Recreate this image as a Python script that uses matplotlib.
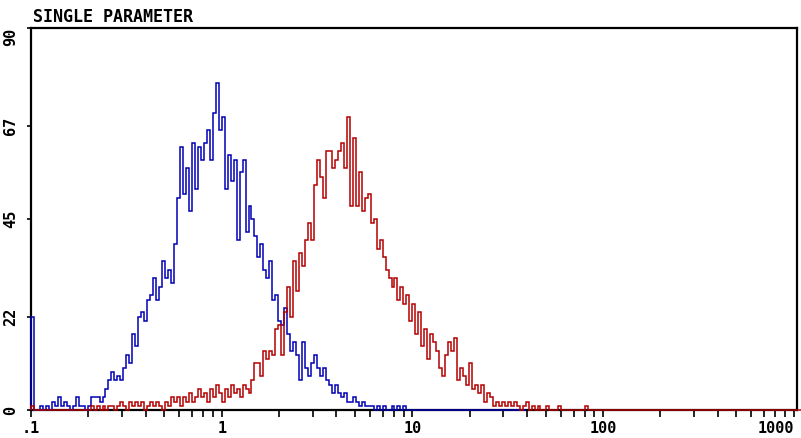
import matplotlib
matplotlib.use("Agg")
import matplotlib.pyplot as plt
import numpy as np
from matplotlib.ticker import FixedLocator, NullFormatter

# histogram counts per channel, 64 channels per decade starting at 0.1
blue_counts = [
    22, 0, 0, 1, 0, 1, 0, 2, 1, 3,
    1, 2, 1, 0, 1, 3, 1, 1, 0, 1,
    3, 3, 3, 2, 3, 5, 7, 9, 7, 8,
    7, 10, 13, 11, 18, 15, 22, 23, 21, 26,
    27, 31, 26, 29, 35, 31, 33, 30, 39, 50,
    62, 51, 57, 47, 63, 52, 62, 59, 63, 66,
    59, 70, 77, 66, 69, 52, 60, 54, 59, 40,
    56, 59, 42, 48, 45, 41, 36, 39, 33, 31,
    35, 26, 27, 21, 20, 24, 18, 14, 16, 13,
    7, 16, 10, 8, 11, 13, 10, 8, 10, 7,
    6, 4, 6, 4, 3, 4, 2, 2, 3, 2,
    1, 2, 1, 1, 1, 0, 1, 0, 1, 0,
    0, 1, 0, 1, 0, 1, 0,
]
red_counts = [
    1, 0, 0, 0, 0, 0, 0, 0, 0, 0,
    0, 0, 0, 0, 0, 0, 0, 0, 0, 0,
    1, 0, 1, 0, 1, 0, 1, 1, 0, 1,
    2, 1, 0, 2, 1, 2, 1, 2, 0, 1,
    2, 1, 2, 1, 0, 2, 1, 3, 2, 3,
    1, 3, 2, 4, 2, 3, 5, 3, 4, 2,
    5, 3, 6, 4, 2, 5, 3, 6, 4, 5,
    3, 6, 5, 4, 7, 11, 11, 8, 14, 12,
    14, 13, 19, 20, 13, 23, 29, 22, 35, 28,
    37, 34, 40, 44, 40, 53, 59, 55, 50, 61,
    61, 57, 59, 61, 63, 57, 69, 48, 64, 48,
    56, 47, 50, 51, 44, 45, 38, 40, 36, 33,
    31, 29, 31, 26, 29, 25, 27, 21, 25, 18,
    23, 15, 19, 12, 18, 16, 14, 10, 8, 13,
    16, 14, 17, 7, 10, 8, 6, 11, 5, 6,
    4, 6, 2, 4, 3, 1, 2, 1, 2, 1,
    2, 1, 2, 1, 0, 1, 2, 0, 1, 0,
    1, 0, 0, 1, 0, 0, 0, 1, 0, 0,
    0, 0, 0, 0, 0, 0, 1, 0, 0, 0,
]
x_ticks = [0.1, 1, 10, 100, 1000]
x_labels = [".1", "1", "10", "100", "1000"]
y_ticks = [0, 22, 45, 67, 90]
y_labels = ["0", "22", "45", "67", "90"]

CH_PER_DECADE = 64
BLUE_LEN = 166
RED_LEN = 260


def pad(counts, n):
    out = np.zeros(n)
    out[:len(counts)] = counts
    return out


def edges(n):
    return 0.1 * 10 ** (np.arange(n + 1) / CH_PER_DECADE)


font = dict(family="DejaVu Sans Mono", weight="bold", size=11)

fig = plt.figure(figsize=(8.01, 4.38), dpi=100)
ax = fig.add_axes([31 / 801, 1 - 410 / 438, 766 / 801, 382 / 438])
ax.set_xscale("log")

ax.stairs(pad(blue_counts, BLUE_LEN), edges(BLUE_LEN), color="#0000b4",
          lw=1.1, clip_on=False, zorder=3)
ax.stairs(pad(red_counts, RED_LEN), edges(RED_LEN), color="#b40000",
          lw=1.1, clip_on=False, zorder=3.5)

ax.set_xlim(0.1, 1040)
ax.set_ylim(0, 90)

ax.xaxis.set_major_locator(FixedLocator(x_ticks))
ax.set_xticklabels(x_labels, **font)
minor = [m * 10.0 ** d for d in range(-1, 3) for m in range(2, 10)]
ax.xaxis.set_minor_locator(FixedLocator(minor))
ax.xaxis.set_minor_formatter(NullFormatter())
ax.tick_params(axis="x", which="both", direction="out", length=5, width=1.2, pad=3)
ax.get_xticklabels()[-1].set_ha("right")

ax.set_yticks(y_ticks)
ax.set_yticklabels(y_labels, rotation=90, va="center", **font)
ax.tick_params(axis="y", direction="out", length=3, width=1.2, pad=6)
ax.get_yticklabels()[-1].set_va("top")

for s in ax.spines.values():
    s.set_linewidth(1.6)

fig.text(33 / 801, 1 - 17 / 438, "SINGLE PARAMETER", ha="left", va="center",
         **dict(font, size=12))

fig.savefig("out.png", dpi=100)
